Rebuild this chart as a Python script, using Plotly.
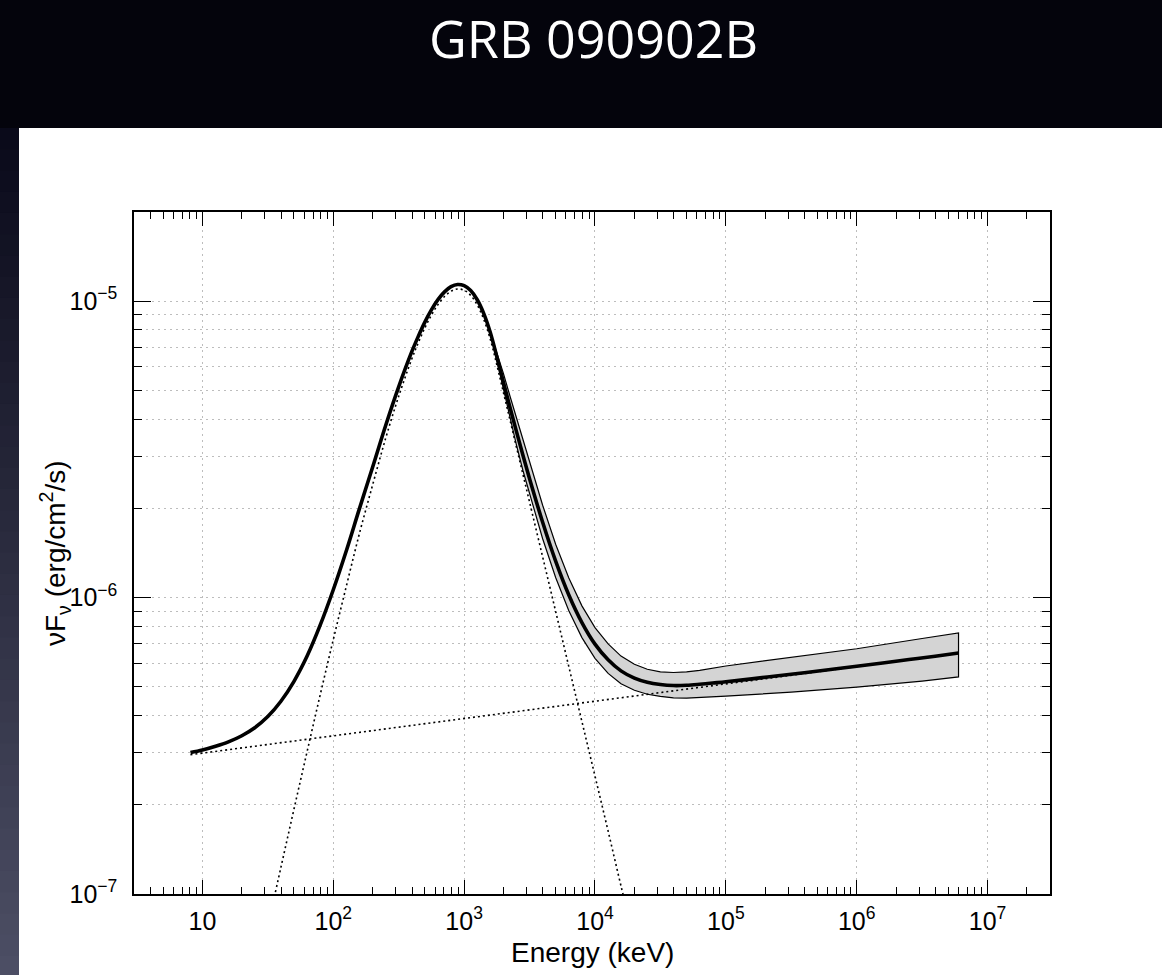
import math
import plotly.graph_objects as go

# ---------------- data (keV, erg/cm^2/s) ----------------
# Total model: Band + power law
energy = [8.1, 10, 12.6, 15.8, 20.0, 25.1, 31.6, 39.8, 50.1, 63.1, 79.4,
          100, 126, 158, 200, 251, 316, 398, 447, 501, 562, 631, 708, 794,
          891, 1000, 1122, 1259, 1413, 1585, 1778, 1995, 2239, 2512, 2818,
          3162, 3981, 5012, 6310, 7943, 1.0e4, 1.26e4, 1.58e4, 2.0e4, 2.51e4,
          3.16e4, 3.98e4, 5.01e4, 6.31e4, 7.94e4, 1.0e5, 1.58e5, 2.51e5,
          3.98e5, 6.31e5, 1.0e6, 1.58e6, 2.51e6, 3.98e6, 6.0e6]
total_flux = [3.00e-7, 3.06e-7, 3.15e-7, 3.26e-7, 3.42e-7, 3.64e-7, 3.97e-7,
              4.47e-7, 5.22e-7, 6.35e-7, 8.07e-7, 1.063e-6, 1.442e-6,
              1.989e-6, 2.759e-6, 3.802e-6, 5.143e-6, 6.756e-6, 7.626e-6,
              8.504e-6, 9.35e-6, 1.012e-5, 1.0753e-5, 1.1195e-5, 1.139e-5,
              1.1282e-5, 1.086e-5, 1.0114e-5, 9.08e-6, 7.843e-6, 6.50e-6,
              5.333e-6, 4.39e-6, 3.63e-6, 3.015e-6, 2.519e-6, 1.796e-6,
              1.326e-6, 1.021e-6, 8.24e-7, 6.97e-7, 6.17e-7, 5.66e-7, 5.35e-7,
              5.18e-7, 5.09e-7, 5.05e-7, 5.06e-7, 5.10e-7, 5.15e-7, 5.20e-7,
              5.32e-7, 5.45e-7, 5.58e-7, 5.72e-7, 5.87e-7, 6.02e-7, 6.18e-7,
              6.34e-7, 6.50e-7]

# Band component alone
band_energy = [31.6, 39.8, 50.1, 63.1, 79.4, 100, 126, 158, 200, 251, 316,
               398, 447, 501, 562, 631, 708, 794, 891, 1000, 1122, 1259, 1413,
               1585, 1778, 1995, 2239, 2512, 2818, 3162, 3981, 5012, 6310,
               7943, 1.0e4, 1.26e4, 1.58e4, 2.0e4]
band_flux = [7.78e-8, 1.23e-7, 1.935e-7, 3.025e-7, 4.694e-7, 7.215e-7,
             1.0955e-6, 1.638e-6, 2.403e-6, 3.441e-6, 4.777e-6, 6.385e-6,
             7.253e-6, 8.128e-6, 8.974e-6, 9.739e-6, 1.037e-5, 1.0809e-5,
             1.1002e-5, 1.0891e-5, 1.0466e-5, 9.718e-6, 8.683e-6, 7.441e-6,
             6.095e-6, 4.926e-6, 3.981e-6, 3.217e-6, 2.600e-6, 2.101e-6,
             1.372e-6, 8.96e-7, 5.85e-7, 3.82e-7, 2.50e-7, 1.63e-7, 1.065e-7,
             6.96e-8]

# Power-law component alone
pl_energy = [8.1, 6.0e6]
pl_flux = [2.951e-7, 6.497e-7]

# 1-sigma envelope of the total model
err_energy = [1585, 1778, 1995, 2239, 2512, 2818, 3162, 3981, 5012, 6310,
              7943, 1.0e4, 1.26e4, 1.58e4, 2.0e4, 2.51e4, 3.16e4, 3.98e4,
              5.01e4, 6.31e4, 1.0e5, 3.16e5, 1.0e6, 3.16e6, 6.0e6]
err_upper = [7.843e-6, 6.73e-6, 5.71e-6, 4.79e-6, 4.03e-6, 3.38e-6, 2.85e-6,
             2.05e-6, 1.51e-6, 1.165e-6, 9.38e-7, 7.92e-7, 6.98e-7, 6.35e-7,
             5.96e-7, 5.73e-7, 5.62e-7, 5.59e-7, 5.62e-7, 5.68e-7, 5.88e-7,
             6.30e-7, 6.72e-7, 7.28e-7, 7.60e-7]
err_lower = [7.843e-6, 6.31e-6, 5.01e-6, 4.04e-6, 3.27e-6, 2.68e-6, 2.23e-6,
             1.58e-6, 1.167e-6, 9.03e-7, 7.33e-7, 6.24e-7, 5.55e-7, 5.12e-7,
             4.87e-7, 4.72e-7, 4.64e-7, 4.59e-7, 4.58e-7, 4.59e-7, 4.65e-7,
             4.80e-7, 4.99e-7, 5.23e-7, 5.40e-7]

# Axis ticks
x_tick_vals = [10, 1e2, 1e3, 1e4, 1e5, 1e6, 1e7]
x_tick_text = ["10", "10<sup>2</sup>", "10<sup>3</sup>", "10<sup>4</sup>",
               "10<sup>5</sup>", "10<sup>6</sup>", "10<sup>7</sup>"]
y_tick_vals = [1e-7, 1e-6, 1e-5]
y_tick_text = ["10<sup>\u22127</sup>", "10<sup>\u22126</sup>",
               "10<sup>\u22125</sup>"]

x_minor = [m * 10 ** d for d in range(0, 8) for m in range(2, 10)
           if 3 <= m * 10 ** d <= 3e7]
y_minor = [m * 10.0 ** d for d in range(-7, -4) for m in range(2, 10)
           if m * 10.0 ** d <= 2e-5]

# ---------------- page geometry ----------------
FIG_W, FIG_H = 1162, 975
L_M, R_M, T_M, B_M = 134, 112, 212, 81
PLOT_W = FIG_W - L_M - R_M
PLOT_H = FIG_H - T_M - B_M


def px_x(px):
    return (px - L_M) / PLOT_W


def px_y(py):
    return (FIG_H - B_M - py) / PLOT_H


AX_FONT = "Liberation Sans, Arial, Helvetica, sans-serif"

fig = go.Figure()

# envelope (filled, outlined)
fig.add_trace(go.Scatter(
    x=err_energy + err_energy[::-1],
    y=err_upper + err_lower[::-1],
    fill="toself", fillcolor="#d4d4d4",
    line=dict(color="black", width=1.2),
    mode="lines", hoverinfo="skip", showlegend=False))

# components
fig.add_trace(go.Scatter(
    x=pl_energy, y=pl_flux, mode="lines",
    line=dict(color="black", width=1.6, dash="2px,3px"),
    showlegend=False))
fig.add_trace(go.Scatter(
    x=band_energy, y=band_flux, mode="lines",
    line=dict(color="black", width=1.6, dash="2px,3px", shape="spline"),
    showlegend=False))

# total model
fig.add_trace(go.Scatter(
    x=energy, y=total_flux, mode="lines",
    line=dict(color="black", width=3.6, shape="spline"),
    showlegend=False))

shapes = []
# white slide panel
shapes.append(dict(type="rect", xref="paper", yref="paper",
                   x0=px_x(19), x1=px_x(FIG_W + 2),
                   y0=px_y(FIG_H + 2), y1=px_y(128),
                   fillcolor="white", line=dict(width=0), layer="below"))
# shaded strip on the left edge
n_strip = 40
top_c = (10, 10, 26)
bot_c = (76, 78, 100)
y_top, y_bot = 128, FIG_H + 2
for i in range(n_strip):
    t = i / (n_strip - 1)
    c = tuple(round(top_c[k] + (bot_c[k] - top_c[k]) * t) for k in range(3))
    ya = y_top + (y_bot - y_top) * i / n_strip
    yb = y_top + (y_bot - y_top) * (i + 1) / n_strip + 1
    shapes.append(dict(type="rect", xref="paper", yref="paper",
                       x0=px_x(-2), x1=px_x(19), y0=px_y(yb), y1=px_y(ya),
                       fillcolor="rgb(%d,%d,%d)" % c, line=dict(width=0),
                       layer="below"))

annotations = [
    dict(text="GRB 090902B", xref="paper", yref="paper",
         x=px_x(593), y=px_y(37), xanchor="center", yanchor="middle",
         showarrow=False,
         font=dict(family="Open Sans, Lato, sans-serif", size=52,
                   color="white")),
    dict(text="Energy (keV)", xref="paper", yref="paper",
         x=px_x(592), y=px_y(952), xanchor="center", yanchor="middle",
         showarrow=False, font=dict(family=AX_FONT, size=28, color="black")),
    dict(text="\u03bdF<sub>\u03bd</sub> (erg/cm<sup>2</sup>/s)",
         xref="paper", yref="paper",
         x=px_x(55), y=px_y(553), xanchor="center", yanchor="middle",
         textangle=-90, showarrow=False,
         font=dict(family=AX_FONT, size=28, color="black")),
]

axis_common = dict(
    type="log", showline=True, linecolor="black", linewidth=1.5,
    mirror="ticks", ticks="inside", tickwidth=1.2, tickcolor="black",
    showgrid=True, gridcolor="#bdbdbd", gridwidth=1, griddash="2px,4px",
    zeroline=False, tickmode="array",
    tickfont=dict(family=AX_FONT, size=25, color="black"),
)

fig.update_layout(
    width=FIG_W, height=FIG_H,
    margin=dict(l=L_M, r=R_M, t=T_M, b=B_M, pad=0),
    paper_bgcolor="#04040c", plot_bgcolor="white",
    shapes=shapes, annotations=annotations,
    xaxis=dict(axis_common, range=[math.log10(3), math.log10(3e7)],
               tickvals=x_tick_vals, ticktext=x_tick_text, ticklen=14,
               ticklabelstandoff=4,
               minor=dict(tickmode="array", tickvals=x_minor,
                          ticks="inside", ticklen=7, tickwidth=1.2,
                          tickcolor="black", showgrid=False)),
    yaxis=dict(axis_common, range=[-7, math.log10(2e-5)],
               tickvals=y_tick_vals, ticktext=y_tick_text, ticklen=17,
               ticklabelstandoff=10,
               minor=dict(tickmode="array", tickvals=y_minor,
                          ticks="inside", ticklen=8, tickwidth=1.2,
                          tickcolor="black", showgrid=True,
                          gridcolor="#bdbdbd", gridwidth=1,
                          griddash="2px,4px")),
    showlegend=False,
)

fig.write_html("out.html")
